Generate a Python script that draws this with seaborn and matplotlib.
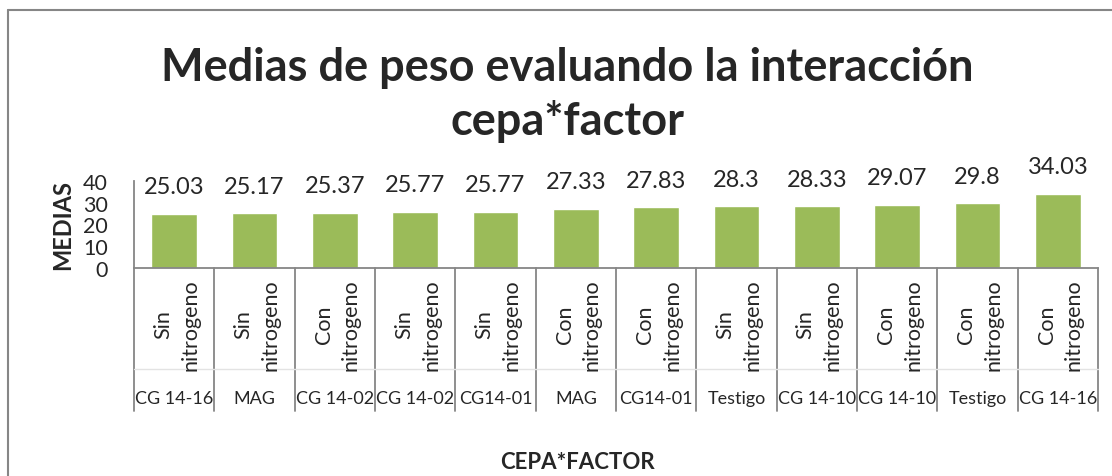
import numpy as np
import pandas as pd
import seaborn as sns
import matplotlib.pyplot as plt
from matplotlib.lines import Line2D
from matplotlib import transforms

# values
cepa = ['CG 14-16', 'MAG', 'CG 14-02', 'CG 14-02', 'CG14-01', 'MAG',
        'CG14-01', 'Testigo', 'CG 14-10', 'CG 14-10', 'Testigo', 'CG 14-16']
factor = ['Sin\nnitrogeno', 'Sin\nnitrogeno', 'Con\nnitrogeno', 'Sin\nnitrogeno',
          'Sin\nnitrogeno', 'Con\nnitrogeno', 'Con\nnitrogeno', 'Sin\nnitrogeno',
          'Sin\nnitrogeno', 'Con\nnitrogeno', 'Con\nnitrogeno', 'Con\nnitrogeno']
medias = [25.03, 25.17, 25.37, 25.77, 25.77, 27.33, 27.83, 28.3, 28.33, 29.07, 29.8, 34.03]
value_labels = ['25.03', '25.17', '25.37', '25.77', '25.77', '27.33',
                '27.83', '28.3', '28.33', '29.07', '29.8', '34.03']
y_ticks = [0, 10, 20, 30, 40]

W, H = 1112, 477
sns.set_style('white')
plt.rcParams['font.family'] = ['Lato', 'DejaVu Sans']

df = pd.DataFrame({'key': [c + '|' + f for c, f in zip(cepa, factor)], 'media': medias})

fig = plt.figure(figsize=(W / 100, H / 100), dpi=100)
ax = fig.add_axes([134 / W, 1 - 269 / H, (1098 - 134) / W, 87 / H])

def fy(px):
    return 1 - px / H

sns.barplot(data=df, x='key', y='media', order=list(df['key']), color='#9BBB59',
            width=0.57, saturation=1, ax=ax)

ax.set_ylim(0, 40)
ax.set_xlim(-0.5, len(medias) - 0.5)
ax.set_yticks(y_ticks)
ax.set_yticklabels([str(t) for t in y_ticks], fontsize=15.5)
ax.tick_params(axis='y', length=0, pad=19)
ax.set_xticks([])
ax.set_xlabel('')
ax.set_ylabel('MEDIAS', fontsize=17, fontweight='bold', labelpad=6)
for s in ['top', 'right']:
    ax.spines[s].set_visible(False)
for s in ['left', 'bottom']:
    ax.spines[s].set_color('#868686')
    ax.spines[s].set_linewidth(1.3)

for cont in ax.containers:
    ax.bar_label(cont, labels=value_labels, padding=12, fontsize=17, clip_on=False)

# category axis: factor labels, cepa labels and separator lines
tr = transforms.blended_transform_factory(ax.transData, fig.transFigure)
for i in range(len(medias) + 1):
    ax.add_line(Line2D([i - 0.5, i - 0.5], [fy(269), fy(412)], transform=tr,
                       color='#868686', lw=1.3, clip_on=False))
ax.add_line(Line2D([-0.5, len(medias) - 0.5], [fy(370), fy(370)], transform=tr,
                   color='#e3e3e3', lw=1, clip_on=False))
for i, (c, f) in enumerate(zip(cepa, factor)):
    ax.text(i + 0.03, fy(325), f, transform=tr, rotation=90, ha='center', va='center',
            multialignment='center', fontsize=15.5, linespacing=1.45)
    ax.text(i, fy(399), c, transform=tr, ha='center', va='center', fontsize=13)

fig.text(577 / W, fy(463), 'CEPA*FACTOR', ha='center', va='center',
         fontsize=16, fontweight='bold')
fig.text(567 / W, fy(95), 'Medias de peso evaluando la interacción\ncepa*factor',
         ha='center', va='center', fontsize=32.5, fontweight='bold', linespacing=1.3)

# outer chart border
fig.add_artist(Line2D([8 / W, 1], [fy(11), fy(11)], color='#868686', lw=1.5))
fig.add_artist(Line2D([8 / W, 8 / W], [0, fy(11)], color='#868686', lw=1.5))

fig.savefig('out.png', dpi=100)
